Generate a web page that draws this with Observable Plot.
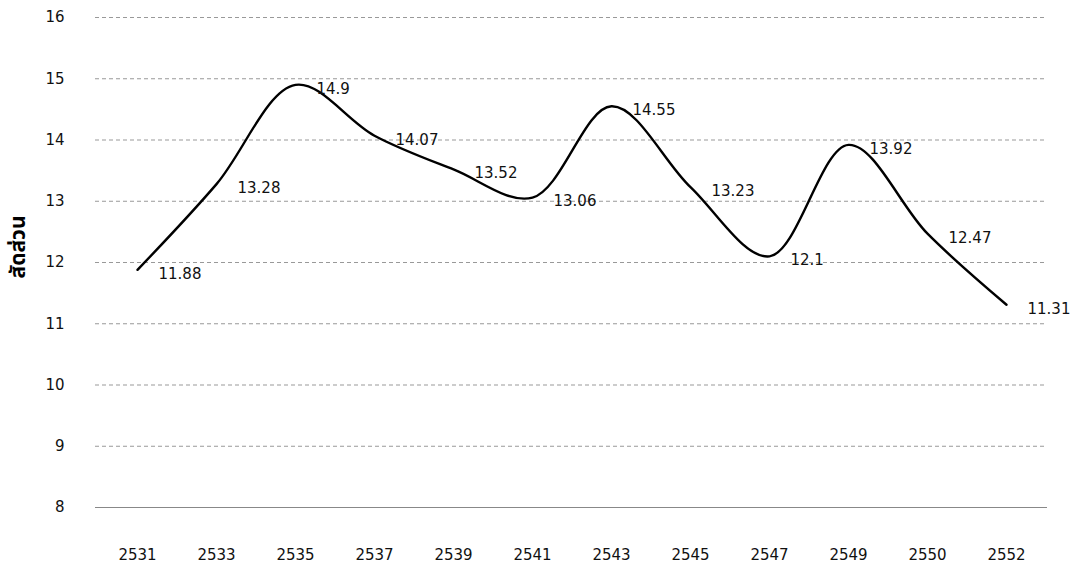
<!DOCTYPE html>
<html>
<head>
<meta charset="utf-8">
<script src="https://cdn.jsdelivr.net/npm/d3@7"></script>
<script src="https://cdn.jsdelivr.net/npm/@observablehq/plot@0.6"></script>
<style>
  html, body { margin: 0; padding: 0; background: #fff; }
  svg { display: block; }
</style>
</head>
<body>
<div id="chart"></div>
<script>
const years = ["2531","2533","2535","2537","2539","2541","2543","2545","2547","2549","2550","2552"];
const values = [11.88, 13.28, 14.9, 14.07, 13.52, 13.06, 14.55, 13.23, 12.1, 13.92, 12.47, 11.31];
const yTicks = [8, 9, 10, 11, 12, 13, 14, 15, 16];
const yLabel = "สัดส่วน";

const data = years.map((y, i) => ({year: y, value: values[i]}));

const chart = Plot.plot({
  width: 1071,
  height: 565,
  marginTop: 17,
  marginBottom: 58,
  marginLeft: 95,
  marginRight: 24,
  style: {fontFamily: "'DejaVu Sans', sans-serif", fontSize: "15px", color: "#111", background: "#fff"},
  x: {type: "point", domain: years, padding: 0.5, label: null},
  y: {domain: [8, 16], ticks: yTicks, label: null},
  marks: [
    Plot.ruleY(yTicks.filter(d => d !== 8), {stroke: "#999", strokeDasharray: "4,3", strokeWidth: 1}),
    Plot.ruleY([8], {stroke: "#888", strokeWidth: 1.2}),
    Plot.axisX({tickSize: 0, tickPadding: 42, fontSize: 15, label: null}),
    Plot.axisY({ticks: yTicks, tickSize: 0, tickPadding: 31, fontSize: 15, label: null, tickFormat: d => String(d)}),
    Plot.line(data, {x: "year", y: "value", curve: "catmull-rom", stroke: "#000", strokeWidth: 2.4}),
    Plot.text(data, {x: "year", y: "value", text: d => String(d.value), textAnchor: "start", dx: 21, dy: 4, fill: "#111", fontSize: 15}),
    Plot.text([yLabel], {frameAnchor: "left", dx: -77, dy: 16, rotate: -90, fontWeight: "bold", fontSize: 21, fill: "#000", fontFamily: "'Noto Sans Thai', 'Noto Sans', 'DejaVu Sans', sans-serif"})
  ]
});
document.getElementById("chart").appendChild(chart);
</script>
</body>
</html>
